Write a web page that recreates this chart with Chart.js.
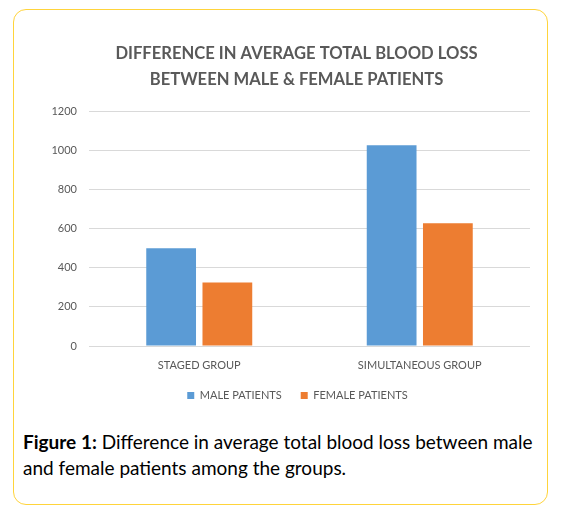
<!DOCTYPE html>
<html>
<head>
<meta charset="utf-8">
<script src="https://cdn.jsdelivr.net/npm/chart.js@4.4.1/dist/chart.umd.min.js"></script>
<style>
  html, body { margin: 0; padding: 0; background: #fff; }
  body { width: 563px; height: 510px; position: relative; overflow: hidden; font-family: Lato, "Open Sans", sans-serif; }
  .frame {
    position: absolute; left: 13px; top: 9px; width: 535px; height: 496px;
    box-sizing: border-box; border: 1.5px solid #FFD43B; border-radius: 13px;
  }
  .chart-wrap { position: absolute; left: 0; top: 0; width: 563px; height: 420px; }
  .caption {
    position: absolute; left: 23px; top: 429px; width: 535px;
    font-size: 19px; line-height: 26px; color: #000;
  }
  .caption b { font-weight: 700; }
</style>
</head>
<body>
<div class="frame"></div>
<div class="chart-wrap"><canvas id="bloodChart"></canvas></div>
<div class="caption"><b>Figure 1:</b> Difference in average total blood loss between male<br>and female patients among the groups.</div>
<script>
const groups = ["STAGED GROUP", "SIMULTANEOUS GROUP"];
const malePatients = [500, 1025];
const femalePatients = [325, 627];
const yTicks = [0, 200, 400, 600, 800, 1000, 1200];

const grey = "#595959";

// nudge title + legend so they sit centred over the plot like the original
const centreBlocks = {
  id: "centreBlocks",
  afterLayout(chart) {
    const lg = chart.legend;
    if (lg) { lg.left += 18; lg.right += 18; }
    const tb = chart.titleBlock;
    if (tb) { tb.left += 17; tb.right += 17; }
  },
};

const ctx = document.getElementById("bloodChart");
new Chart(ctx, {
  type: "bar",
  data: {
    labels: groups,
    datasets: [
      {
        label: "MALE PATIENTS",
        data: malePatients,
        backgroundColor: "#5B9BD5",
        categoryPercentage: 0.51,
        barPercentage: 0.885,
      },
      {
        label: "FEMALE PATIENTS",
        data: femalePatients,
        backgroundColor: "#ED7D31",
        categoryPercentage: 0.51,
        barPercentage: 0.885,
      },
    ],
  },
  plugins: [centreBlocks],
  options: {
    responsive: true,
    maintainAspectRatio: false,
    animation: false,
    layout: { padding: { left: 29, right: 33, top: 0, bottom: 9 } },
    plugins: {
      title: {
        display: true,
        text: ["DIFFERENCE IN AVERAGE TOTAL BLOOD LOSS", "BETWEEN MALE & FEMALE PATIENTS"],
        color: grey,
        font: { family: "Lato", size: 16.6, weight: "bold", lineHeight: 1.6 },
        padding: { top: 40, bottom: 18 },
      },
      legend: {
        position: "bottom",
        labels: {
          color: grey,
          font: { family: "Lato", size: 11 },
          boxWidth: 7,
          boxHeight: 7,
          padding: 19,
        },
      },
      tooltip: { enabled: false },
    },
    scales: {
      x: {
        grid: { display: false },
        border: { display: false },
        ticks: { color: grey, font: { family: "Lato", size: 11 }, padding: 5 },
        afterFit: (axis) => { axis.height = 25; },
      },
      y: {
        min: 0,
        max: 1200,
        afterBuildTicks: (axis) => { axis.ticks = yTicks.map((v) => ({ value: v })); },
        grid: { color: "#D9D9D9", drawTicks: false },
        border: { display: false },
        ticks: {
          color: grey,
          font: { family: "Lato", size: 11 },
          padding: 12,
          callback: (v) => String(v),
        },
        afterFit: (axis) => { axis.width = 60; },
      },
    },
  },
});
</script>
</body>
</html>
